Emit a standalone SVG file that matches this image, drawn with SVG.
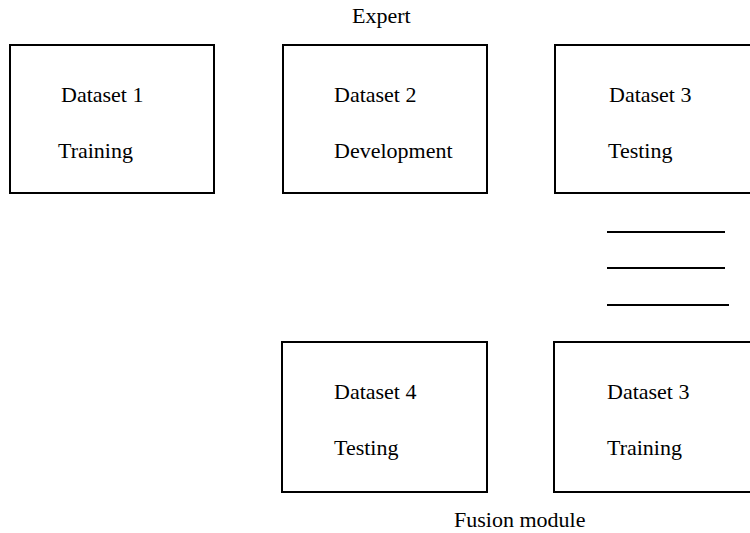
<svg xmlns="http://www.w3.org/2000/svg" width="750" height="533" viewBox="0 0 750 533">
<style>
.box{fill:#fff;stroke:#000;stroke-width:2}
.t{font-family:'Liberation Serif','DejaVu Serif','Times New Roman',serif;font-size:22px;fill:#000}
.ln{stroke:#000;stroke-width:2}
</style>
<rect width="750" height="533" fill="#fff"/>
<text class="t" x="352" y="23">Expert</text>
<g id="ds1"><rect class="box" x="10" y="45" width="204" height="148"/><text class="t" x="61" y="102">Dataset 1</text><text class="t" x="58" y="158">Training</text></g>
<g id="ds2"><rect class="box" x="283" y="45" width="204" height="148"/><text class="t" x="334" y="102">Dataset 2</text><text class="t" x="334" y="158">Development</text></g>
<g id="ds3test"><rect class="box" x="555" y="45" width="220" height="148"/><text class="t" x="609" y="102">Dataset 3</text><text class="t" x="608" y="158">Testing</text></g>
<g id="connectors"><line class="ln" x1="607" y1="232" x2="725" y2="232"/><line class="ln" x1="607" y1="268" x2="725" y2="268"/><line class="ln" x1="607" y1="305" x2="729" y2="305"/></g>
<g id="ds4"><rect class="box" x="282" y="342" width="205" height="150"/><text class="t" x="334" y="399">Dataset 4</text><text class="t" x="334" y="455">Testing</text></g>
<g id="ds3train"><rect class="box" x="554" y="342" width="220" height="150"/><text class="t" x="607" y="399">Dataset 3</text><text class="t" x="607" y="455">Training</text></g>
<text class="t" x="454" y="527">Fusion module</text>
</svg>
